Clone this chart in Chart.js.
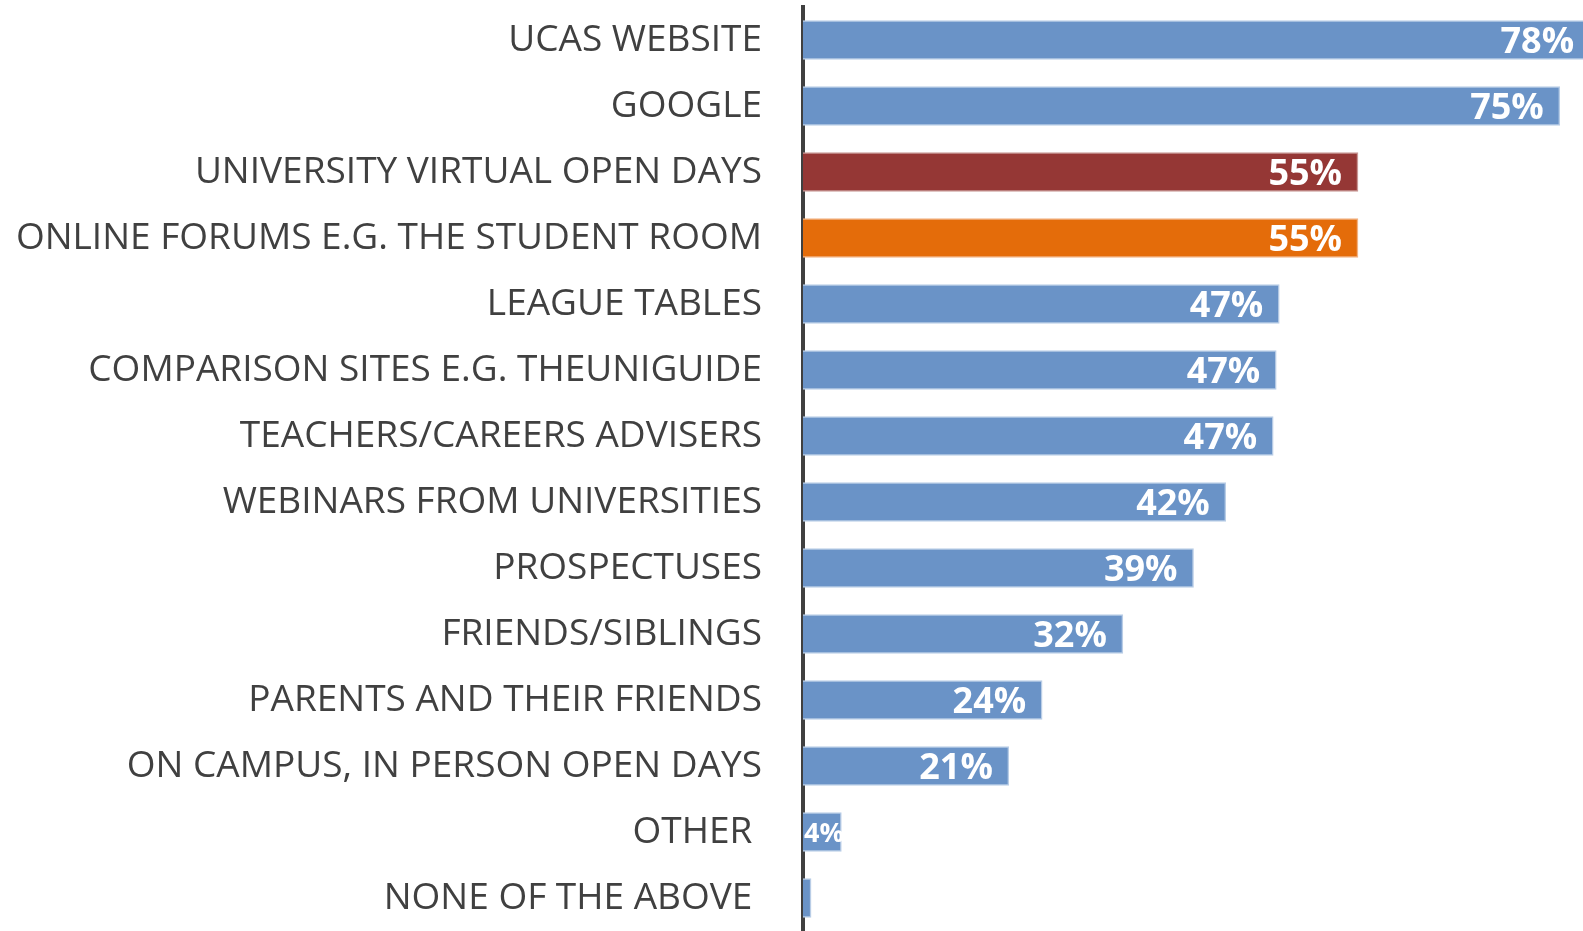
<!DOCTYPE html>
<html>
<head>
<meta charset="utf-8">
<script src="https://cdn.jsdelivr.net/npm/chart.js@4/dist/chart.umd.min.js"></script>
<style>
html,body{margin:0;padding:0;background:#fff;}
#wrap{position:relative;width:1583px;height:931px;}
</style>
</head>
<body>
<div id="wrap"><canvas id="c"></canvas></div>
<script>
const categories = [
  "UCAS WEBSITE",
  "GOOGLE",
  "UNIVERSITY VIRTUAL OPEN DAYS",
  "ONLINE FORUMS E.G. THE STUDENT ROOM",
  "LEAGUE TABLES",
  "COMPARISON SITES E.G. THEUNIGUIDE",
  "TEACHERS/CAREERS ADVISERS",
  "WEBINARS FROM UNIVERSITIES",
  "PROSPECTUSES",
  "FRIENDS/SIBLINGS",
  "PARENTS AND THEIR FRIENDS",
  "ON CAMPUS, IN PERSON OPEN DAYS",
  "OTHER ",
  "NONE OF THE ABOVE "
];
const values = [78, 75, 55, 55, 47.2, 46.9, 46.6, 41.9, 38.7, 31.7, 23.7, 20.4, 3.8, 0.8];
const valueLabels = ["78%", "75%", "55%", "55%", "47%", "47%", "47%", "42%", "39%", "32%", "24%", "21%", "4%", ""];
const barColors = ["#6a93c7","#6a93c7","#953735","#e46c0a","#6a93c7","#6a93c7","#6a93c7","#6a93c7","#6a93c7","#6a93c7","#6a93c7","#6a93c7","#6a93c7","#6a93c7"];
const borderColors = ["#b9cde6","#b9cde6","#c99896","#f2b384","#b9cde6","#b9cde6","#b9cde6","#b9cde6","#b9cde6","#b9cde6","#b9cde6","#b9cde6","#b9cde6","#b9cde6"];

const labelPlugin = {
  id: 'valueLabels',
  afterDatasetsDraw(chart) {
    const ctx = chart.ctx;
    const meta = chart.getDatasetMeta(0);
    ctx.save();
    ctx.fillStyle = '#ffffff';
    ctx.textBaseline = 'middle';
    meta.data.forEach((bar, i) => {
      const txt = valueLabels[i];
      if (!txt) return;
      const w = bar.x - bar.base;
      ctx.font = 'bold 36px "Open Sans"';
      let tw = ctx.measureText(txt).width;
      if (tw + 30 > w) {
        ctx.font = 'bold 27px "Open Sans"';
        ctx.textAlign = 'left';
        ctx.fillText(txt, bar.base + 1, bar.y + 2);
      } else {
        ctx.textAlign = 'right';
        ctx.fillText(txt, bar.x - 16, bar.y + 3);
      }
    });
    ctx.restore();
  }
};

new Chart(document.getElementById('c'), {
  type: 'bar',
  data: {
    labels: categories,
    datasets: [{
      data: values,
      backgroundColor: barColors,
      borderColor: borderColors,
      borderWidth: 1.5,
      borderSkipped: 'start',
      barThickness: 39
    }]
  },
  options: {
    indexAxis: 'y',
    responsive: true,
    maintainAspectRatio: false,
    animation: false,
    events: [],
    layout: { padding: { top: 7, right: 0, bottom: -4, left: 0 } },
    plugins: { legend: { display: false }, tooltip: { enabled: false } },
    scales: {
      x: { display: false, min: 0, max: 77.3, grid: { display: false } },
      y: {
        z: 1,
        grid: { display: false, drawTicks: false },
        border: { display: true, color: '#404040', width: 4 },
        ticks: { color: '#404040', font: { family: '"Open Sans"', size: 37 }, padding: 41, autoSkip: false },
        afterFit(scale) { scale.width = 803; scale.paddingTop = 0; scale.paddingBottom = 0; }
      }
    }
  },
  plugins: [labelPlugin]
});
</script>
</body>
</html>
